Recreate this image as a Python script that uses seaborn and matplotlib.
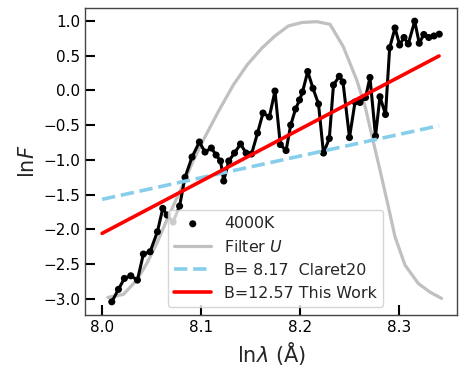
import numpy as np
import pandas as pd
import matplotlib
matplotlib.use('Agg')
import matplotlib.pyplot as plt
import seaborn as sns

# observed spectrum (ln lambda, ln F)
ln_lam = [8.0098, 8.0165, 8.0225, 8.0290, 8.0357, 8.0417, 8.0485, 8.0559, 8.0613, 8.0657,
          8.0717, 8.0783, 8.0838, 8.0909, 8.0983, 8.1040, 8.1104, 8.1152, 8.1197, 8.1229,
          8.1280, 8.1338, 8.1399, 8.1455, 8.1510, 8.1571, 8.1626, 8.1690, 8.1747, 8.1801,
          8.1859, 8.1906, 8.1955, 8.1995, 8.2025, 8.2078, 8.2131, 8.2187, 8.2237, 8.2296,
          8.2338, 8.2397, 8.2434, 8.2500, 8.2556, 8.2606, 8.2662, 8.2707, 8.2763, 8.2808,
          8.2864, 8.2906, 8.2960, 8.3007, 8.3051, 8.3094, 8.3159, 8.3205, 8.3251, 8.3301,
          8.3354, 8.3407]
ln_flux = [-3.045, -2.866, -2.708, -2.670, -2.732, -2.357, -2.324, -2.036, -1.699, -1.795,
           -1.896, -1.666, -1.252, -0.960, -0.743, -0.888, -0.830, -0.931, -1.017, -1.305,
           -1.017, -0.902, -0.772, -0.902, -0.916, -0.614, -0.326, -0.383, -0.009, -0.780,
           -0.866, -0.499, -0.268, -0.138, -0.023, 0.272, 0.030, -0.196, -0.902, -0.693,
           0.078, 0.203, 0.121, -0.679, -0.167, -0.174, -0.102, 0.186, -0.657, -0.091,
           -0.347, 0.615, 0.899, 0.654, 0.762, 0.669, 0.997, 0.679, 0.805, 0.762,
           0.784, 0.810]

# filter U transmission (rescaled)
filt_x = [8.0058, 8.0215, 8.0351, 8.0452, 8.0553, 8.0654, 8.0755, 8.0838, 8.0919, 8.1023,
          8.1172, 8.1326, 8.1465, 8.1613, 8.1747, 8.1882, 8.2020, 8.2169, 8.2303, 8.2437,
          8.2573, 8.2657, 8.2732, 8.2808, 8.2889, 8.2960, 8.3061, 8.3195, 8.3313, 8.3431]
filt_y = [-2.981, -2.938, -2.732, -2.491, -2.203, -1.867, -1.550, -1.291, -1.017, -0.715,
          -0.311, 0.078, 0.366, 0.607, 0.784, 0.928, 0.978, 0.990, 0.952, 0.630,
          0.150, -0.225, -0.686, -1.147, -1.651, -2.108, -2.516, -2.780, -2.905, -2.996]

# linear fits, end points
fit_x = [8.0, 8.3405]
claret_y = [-1.569, -0.508]
work_y = [-2.059, 0.496]

sns.set_style('ticks')
plt.rcParams['font.family'] = ['DejaVu Sans']

fig = plt.figure(figsize=(4.66, 3.8), dpi=100)
ax = fig.add_axes([0.183, 0.171, 0.7976, 0.808])

spec = pd.DataFrame({'x': ln_lam, 'y': ln_flux})
sns.lineplot(x=filt_x, y=filt_y, color='silver', lw=2.3, label='Filter $U$', ax=ax, sort=False, zorder=1)
sns.lineplot(data=spec, x='x', y='y', color='black', lw=2.2, sort=False, ax=ax, zorder=2)
sns.scatterplot(data=spec, x='x', y='y', color='black', s=26, edgecolor='none', label='4000K', ax=ax, zorder=3)
sns.lineplot(x=fit_x, y=claret_y, color='skyblue', lw=2.6, ls='--', dashes=(4, 2.5),
             label='B= 8.17  Claret20', ax=ax, zorder=4)
sns.lineplot(x=fit_x, y=work_y, color='red', lw=2.6, label='B=12.57 This Work', ax=ax, zorder=5)

ax.set_xlim(7.983, 8.3586)
ax.set_ylim(-3.235, 1.187)
ax.set_xticks([8.0, 8.1, 8.2, 8.3])
ax.set_yticks([1.0, 0.5, 0.0, -0.5, -1.0, -1.5, -2.0, -2.5, -3.0])
ax.tick_params(direction='in', length=7, width=1.5, labelsize=11, colors='black')
for s in ax.spines.values():
    s.set_color('#444444')
    s.set_linewidth(1.0)
ax.set_xlabel(r'ln$\lambda$ (Å)', fontsize=15)
ax.set_ylabel(r'ln$F$', fontsize=15)

h, l = ax.get_legend_handles_labels()
order = [l.index('4000K'), l.index('Filter $U$'), l.index('B= 8.17  Claret20'), l.index('B=12.57 This Work')]
ax.legend([h[i] for i in order], [l[i] for i in order], loc='lower left',
          bbox_to_anchor=(0.2225, 0.026), borderaxespad=0, fontsize=11.4, handlelength=2.33)

fig.savefig('out.png', dpi=100)
